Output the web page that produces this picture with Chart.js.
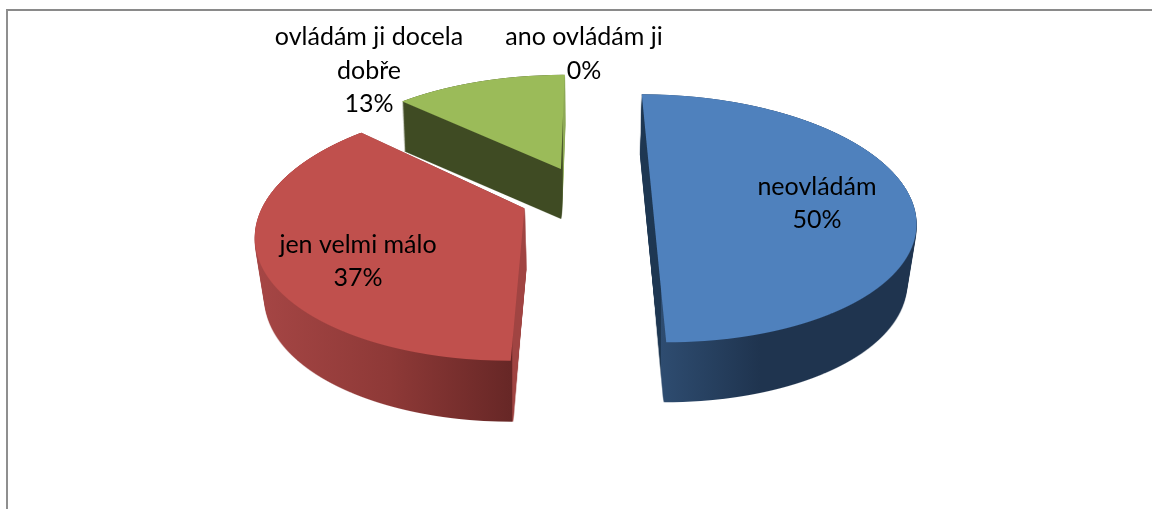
<!DOCTYPE html>
<html>
<head>
<meta charset="utf-8">
<style>
html,body{margin:0;padding:0;background:#fff;overflow:hidden}
#frame{position:absolute;left:6px;top:9px;right:-4px;bottom:-4px;border-top:2px solid #8a8a8a;border-left:2px solid #8f8f8f}
canvas{position:absolute;left:0;top:0}
</style>
<script src="https://cdn.jsdelivr.net/npm/chart.js@4"></script>
</head>
<body>
<div id="frame"></div>
<canvas id="c" width="1152" height="509"></canvas>
<script>
const categories = ["neovládám", "jen velmi málo", "ovládám ji docela", "ano ovládám ji"];
const values = [50, 37, 13, 0];
const percents = ["50%", "37%", "13%", "0%"];
const labelLines = [["neovládám"], ["jen velmi málo"], ["ovládám ji docela", "dobře"], ["ano ovládám ji"]];
const faceColors = ["#4f81bd", "#c0504d", "#9bbb59", "#f79646"];

// 3D look: one projective plane, shared by all the slices
const VIEW = {vx: 586, vy: 196, A: 258, B: 120, k: 0.18, explode: 0.255};
const SIDES = [
  {depth: 60, shrink: 0.03, x0: 640, x1: 800,
   grad: [[0, "#1e3752"], [0.13, "#1e3752"], [0.131, "#2e4c70"], [0.75, "#1f344f"], [1, "#1f344f"]]},
  {depth: 61, shrink: 0.03, x0: 255, x1: 525,
   grad: [[0, "#a64645"], [0.5, "#8e3937"], [0.95, "#672726"], [0.955, "#a04442"], [1, "#a04442"]]},
  {depth: 50, shrink: 0.012, x0: 400, x1: 570,
   grad: [[0, "#3f4b23"], [0.955, "#3f4b23"], [0.96, "#8da955"], [1, "#8da955"]]}
];
const LABEL_POS = [[817, 187, 220], [358, 245, 278], [369, 37, 104], [584, 37, 71]];

const W = 1152, H = 509;

function renderFace(el) {
  const off = document.createElement("canvas");
  off.width = W; off.height = H;
  const g = off.getContext("2d");
  const R = el.outerRadius;
  const {vx, vy, A, B, k, explode} = VIEW;
  const half = (el.startAngle + el.endAngle) / 2;
  const ex = explode * Math.cos(half), ey = -explode * Math.sin(half);
  for (let y = 40; y < 440; y++) {
    const yd = y + 0.5;
    const t = (vy - yd) / B;
    const Y = t / (1 - k * t);
    const D = 1 + k * Y;
    const a = A / (D * R);
    const d = B / (R * D * D);
    const sy = el.y - R * (Y - ey);
    g.setTransform(1, 0, 0, 1, 0, 0);
    g.save();
    g.beginPath();
    g.rect(0, y, W, 1);
    g.clip();
    g.setTransform(a, 0, 0, d, vx + (A / D) * ex - a * el.x, yd - d * sy);
    el.draw(g);
    g.restore();
  }
  g.setTransform(1, 0, 0, 1, 0, 0);
  return off;
}

function renderSide(face, side) {
  const off = document.createElement("canvas");
  off.width = W; off.height = H;
  const g = off.getContext("2d");
  for (let i = 0; i <= side.depth; i++) {
    const s = 1 - side.shrink * i / side.depth;
    g.setTransform(s, 0, 0, 1, VIEW.vx * (1 - s), i);
    g.drawImage(face, 0, 0);
  }
  g.setTransform(1, 0, 0, 1, 0, 0);
  g.globalCompositeOperation = "source-in";
  const lg = g.createLinearGradient(side.x0, 0, side.x1, 0);
  side.grad.forEach(s => lg.addColorStop(s[0], s[1]));
  g.fillStyle = lg;
  g.fillRect(0, 0, W, H);
  return off;
}

const pie3d = {
  id: "pie3d",
  beforeDatasetDraw(chart, args) {
    const ctx = chart.ctx;
    const arcs = chart.getDatasetMeta(args.index).data;
    [2, 1, 0].forEach(i => {
      const face = renderFace(arcs[i]);
      ctx.drawImage(renderSide(face, SIDES[i]), 0, 0);
      ctx.drawImage(face, 0, 0);
    });
    return false;
  },
  afterDraw(chart) {
    const ctx = chart.ctx;
    ctx.save();
    ctx.fillStyle = "#000";
    ctx.font = '25px Lato, "Open Sans", sans-serif';
    ctx.textAlign = "center";
    ctx.textBaseline = "middle";
    labelLines.forEach((lines, i) => {
      const [x, y0, yp] = LABEL_POS[i];
      lines.forEach((s, j) => ctx.fillText(s, x, y0 + j * 34));
      ctx.fillText(percents[i], x, yp);
    });
    ctx.restore();
  }
};

new Chart(document.getElementById("c"), {
  type: "pie",
  data: {
    labels: categories,
    datasets: [{
      data: values,
      backgroundColor: faceColors,
      borderWidth: 0
    }]
  },
  options: {
    responsive: false,
    animation: false,
    events: [],
    layout: {padding: 0},
    plugins: {legend: {display: false}, tooltip: {enabled: false}}
  },
  plugins: [pie3d]
});
</script>
</body>
</html>
